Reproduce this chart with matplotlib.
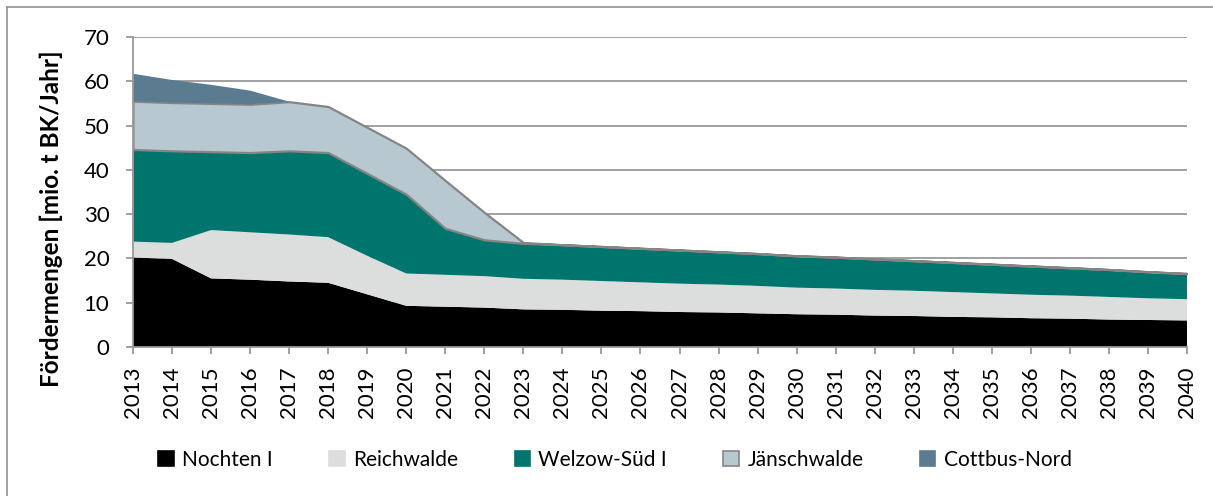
import matplotlib.pyplot as plt
from matplotlib.patches import Patch
from matplotlib.lines import Line2D

plt.rcParams['font.family'] = ['Lato', 'DejaVu Sans']

years = list(range(2013, 2041))
nochten = [20.2, 19.9, 15.5, 15.2, 14.8, 14.5, 11.9, 9.3, 9.1, 8.9,
           8.5, 8.4, 8.2, 8.1, 7.9, 7.8, 7.6, 7.4, 7.3, 7.1,
           7.0, 6.8, 6.7, 6.5, 6.4, 6.2, 6.1, 6.0]
reichwalde = [3.6, 3.6, 10.9, 10.7, 10.6, 10.3, 8.7, 7.3, 7.2, 7.1,
              6.9, 6.8, 6.7, 6.5, 6.4, 6.3, 6.2, 6.0, 5.9, 5.8,
              5.7, 5.6, 5.4, 5.3, 5.2, 5.1, 4.9, 4.8]
welzow = [20.8, 20.8, 17.7, 18.0, 18.9, 19.1, 18.6, 17.9, 10.5, 8.2,
          8.0, 7.9, 7.8, 7.7, 7.6, 7.4, 7.3, 7.2, 7.1, 7.0,
          6.8, 6.7, 6.6, 6.5, 6.3, 6.2, 6.0, 5.8]
jaenschwalde = [10.9, 10.9, 10.9, 10.9, 11.1, 10.4, 10.4, 10.4, 10.8, 6.2,
                0.2, 0, 0, 0, 0, 0, 0, 0, 0, 0,
                0, 0, 0, 0, 0, 0, 0, 0]
cottbus = [6.2, 5.1, 4.2, 3.1, 0, 0, 0, 0, 0, 0,
           0, 0, 0, 0, 0, 0, 0, 0, 0, 0,
           0, 0, 0, 0, 0, 0, 0, 0]

labels = ['Nochten I', 'Reichwalde', 'Welzow-Süd I', 'Jänschwalde', 'Cottbus-Nord']
colors = ['#000000', '#dcdddd', '#00756d', '#b7c8d1', '#5b7b90']

fig = plt.figure(figsize=(12.13, 4.96), dpi=100)
ax = fig.add_axes([0.1096, 0.3004, 0.8690, 0.6250])

polys = ax.stackplot(years, nochten, reichwalde, welzow, jaenschwalde, cottbus,
                     colors=colors, linewidth=0, zorder=2)
polys[3].set_edgecolor('#858585')
polys[3].set_linewidth(1.6)
polys[3].set_zorder(3)
polys[4].set_zorder(4)

ax.set_xlim(2013, 2040)
ax.set_ylim(0, 70)
ax.set_yticks(range(0, 71, 10))
ax.set_xticks(years)
ax.set_xticklabels([str(y) for y in years], rotation=90)
ax.grid(axis='y', color='#999999', linewidth=1.3, zorder=0)
ax.set_axisbelow(True)
for s in ['top', 'right']:
    ax.spines[s].set_visible(False)
for s in ['left', 'bottom']:
    ax.spines[s].set_color('#999999')
    ax.spines[s].set_linewidth(1.3)
    ax.spines[s].set_zorder(5)
ax.tick_params(axis='both', colors='#999999', labelcolor='black',
               length=5, width=1.3, direction='out')
ax.tick_params(axis='y', labelsize=16, pad=12)
ax.tick_params(axis='x', labelsize=16, pad=9)
ax.set_ylabel('Fördermengen [mio. t BK/Jahr]', fontsize=17.5, fontweight='bold')
ax.yaxis.set_label_coords(-0.066, 0.415)

handles = []
for c in colors:
    ec = '#858585' if c == '#b7c8d1' else c
    handles.append(Patch(facecolor=c, edgecolor=ec, linewidth=1.2))
fig.legend(handles, labels, loc='center', bbox_to_anchor=(0.507, 0.073), ncol=5,
           frameon=False, fontsize=15, handlelength=0.75, handleheight=0.75,
           handletextpad=0.4, columnspacing=2.7)

# chart border
fig.add_artist(Line2D([7 / 1213, 7 / 1213], [0, 1 - 7 / 496], transform=fig.transFigure,
                      color='#999999', linewidth=1.3))
fig.add_artist(Line2D([7 / 1213, 1], [1 - 7 / 496, 1 - 7 / 496], transform=fig.transFigure,
                      color='#999999', linewidth=1.3))

fig.savefig('out.png', dpi=100)
